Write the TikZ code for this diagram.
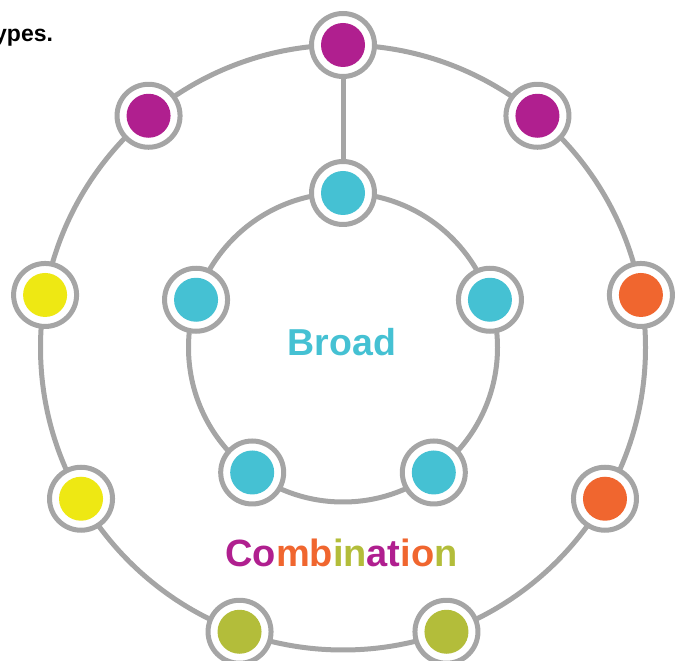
\documentclass[tikz,border=0pt]{standalone}
\usepackage{fontspec}
\setmainfont{Liberation Sans}
\usetikzlibrary{calc}
\definecolor{ringgrey}{HTML}{A5A5A5}
\definecolor{cpurple}{HTML}{B01F8F}
\definecolor{ccyan}{HTML}{45C1D3}
\definecolor{cyellow}{HTML}{EEE813}
\definecolor{corange}{HTML}{F0662F}
\definecolor{cgreen}{HTML}{B3BD3A}
\begin{document}
\begin{tikzpicture}[x=1pt,y=1pt,
  ring/.style={draw=ringgrey,line width=5pt},
  hub/.style={circle,draw=ringgrey,line width=5pt,fill=white,minimum size=63pt,inner sep=0pt}]
\useasboundingbox (0,0) rectangle (680,661);
\coordinate (C) at (343,313.5);
% rings
\draw[ring] (C) circle (302.5);
\draw[ring] (C) circle (154.5);
% outer nodes
\foreach \n/\a in {o1/90,o2/130,o3/50,o4/10,o5/330,o6/290,o7/250,o8/210,o9/170}{
  \node[hub] (\n) at ($(C)+(\a:302.5)$) {};
}
% inner nodes
\foreach \n/\a in {i1/90,i2/162,i3/18,i4/234,i5/306}{
  \node[hub] (\n) at ($(C)+(\a:154.5)$) {};
}
\draw[ring] (o1) -- (i1);
\foreach \n/\c in {o1/cpurple,o2/cpurple,o3/cpurple,o4/corange,o5/corange,
  o6/cgreen,o7/cgreen,o8/cyellow,o9/cyellow,i1/ccyan,i2/ccyan,i3/ccyan,i4/ccyan,i5/ccyan}{
  \fill[\c] (\n.center) circle (22);
}
% texts
\node[anchor=base,font=\bfseries\fontsize{37.5}{42}\selectfont,text=ccyan,inner sep=0pt] (broad) at (342,305) {Broad};
\node[anchor=base,font=\bfseries\fontsize{38}{42}\selectfont,inner sep=0pt] (comb) at (341.5,94)
  {\textcolor{cpurple}{Co}\textcolor{corange}{mb}\textcolor{cgreen}{in}\textcolor{cpurple}{at}\textcolor{corange}{io}\textcolor{cgreen}{n}};
\node[anchor=base west,font=\bfseries\fontsize{23}{27}\selectfont,inner sep=0pt] (types) at (-6,619) {ypes.};
\end{tikzpicture}
\end{document}
